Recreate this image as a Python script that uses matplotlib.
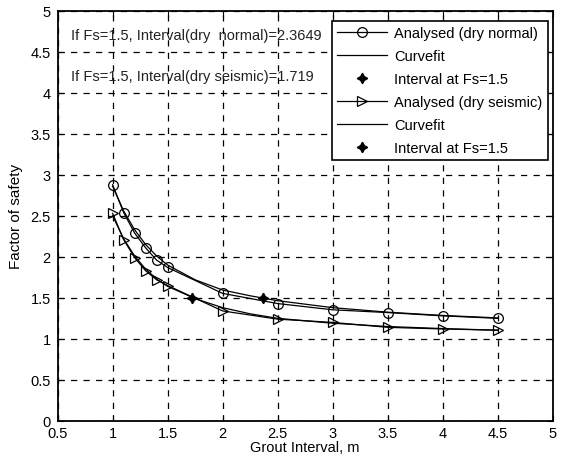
import matplotlib
matplotlib.use("Agg")
import matplotlib.pyplot as plt
import numpy as np

plt.rcParams['font.family'] = ['Liberation Sans', 'DejaVu Sans']
plt.rcParams['font.size'] = 10.5

# Analysed data (dry normal)
x_normal = [1.0, 1.1, 1.2, 1.3, 1.4, 1.5, 2.0, 2.5, 3.0, 3.5, 4.0, 4.5]
y_normal = [2.88, 2.54, 2.29, 2.11, 1.96, 1.87, 1.554, 1.43, 1.354, 1.32, 1.28, 1.25]
# Curvefit (dry normal)
xc_normal = [1.0, 1.1, 1.2, 1.3, 1.4, 1.5, 1.75, 2.0, 2.25, 2.5, 3.0, 3.5, 4.0, 4.5]
yc_normal = [2.86, 2.56, 2.33, 2.15, 2.01, 1.90, 1.72, 1.595, 1.525, 1.465, 1.38, 1.325, 1.285, 1.255]
# Analysed data (dry seismic)
x_seis = [1.0, 1.1, 1.2, 1.3, 1.4, 1.5, 2.0, 2.5, 3.0, 3.5, 4.0, 4.5]
y_seis = [2.53, 2.21, 1.99, 1.83, 1.72, 1.65, 1.34, 1.24, 1.20, 1.14, 1.12, 1.105]
# Curvefit (dry seismic)
xc_seis = [1.0, 1.1, 1.2, 1.3, 1.4, 1.5, 1.75, 2.0, 2.25, 2.5, 3.0, 3.5, 4.0, 4.5]
yc_seis = [2.50, 2.22, 2.01, 1.85, 1.73, 1.64, 1.49, 1.38, 1.305, 1.25, 1.19, 1.15, 1.125, 1.105]
# Interval at Fs=1.5
fs = 1.5
interval_normal = 2.3649
interval_seis = 1.719

xticks = [0.5, 1, 1.5, 2, 2.5, 3, 3.5, 4, 4.5, 5]
yticks = [0, 0.5, 1, 1.5, 2, 2.5, 3, 3.5, 4, 4.5, 5]

fig = plt.figure(figsize=(5.65, 4.56), dpi=100)
ax = fig.add_axes([0.102, 0.075, 0.876, 0.899])

star = (4, 1, 0)
lw = 0.9
ax.plot(x_normal, y_normal, '-', color='black', lw=lw, marker='o', ms=7,
        mfc='none', mec='black', mew=0.9, label='Analysed (dry normal)')
ax.plot(xc_normal, yc_normal, '-', color='black', lw=lw, label='Curvefit')
ax.plot([interval_normal], [fs], linestyle='none', marker=star, ms=7.5,
        color='black', label='Interval at Fs=1.5')
ax.plot(x_seis, y_seis, '-', color='black', lw=lw, marker='>', ms=7,
        mfc='none', mec='black', mew=0.9, label='Analysed (dry seismic)')
ax.plot(xc_seis, yc_seis, '-', color='black', lw=lw, label='Curvefit')
ax.plot([interval_seis], [fs], linestyle='none', marker=star, ms=7.5,
        color='black', label='Interval at Fs=1.5')

ax.text(0.62, 4.70, 'If Fs=1.5, Interval(dry  normal)=%.4f' % interval_normal,
        va='center', ha='left', fontsize=10.5, color='#222222')
ax.text(0.62, 4.21, 'If Fs=1.5, Interval(dry seismic)=%.3f' % interval_seis,
        va='center', ha='left', fontsize=10.5, color='#222222')

ax.set_xlim(0.5, 5)
ax.set_ylim(0, 5)
ax.set_xticks(xticks)
ax.set_xticklabels([('%g' % t) for t in xticks])
ax.set_yticks(yticks)
ax.set_yticklabels([('%g' % t) for t in yticks])
ax.tick_params(direction='in', top=True, right=True, length=4, width=0.8,
               labelsize=10.5)
ax.tick_params(axis='x', pad=4)
ax.tick_params(axis='y', pad=5)
ax.grid(True, color='black', linestyle=(0, (5, 5)), linewidth=0.9)
for s in ax.spines.values():
    s.set_linewidth(1.3)
    s.set_color('black')

ax.set_xlabel('Grout Interval, m', fontsize=10.5, labelpad=0)
ax.set_ylabel('Factor of safety', fontsize=11, labelpad=5)

leg = ax.legend(loc='upper right', bbox_to_anchor=(0.99, 0.976), fontsize=10.5,
                handlelength=3.4, borderaxespad=0, fancybox=False,
                framealpha=1, edgecolor='black', labelspacing=0.62,
                handletextpad=0.5, borderpad=0.35)
leg.get_frame().set_linewidth(1.2)

fig.savefig('out.png', dpi=100)
